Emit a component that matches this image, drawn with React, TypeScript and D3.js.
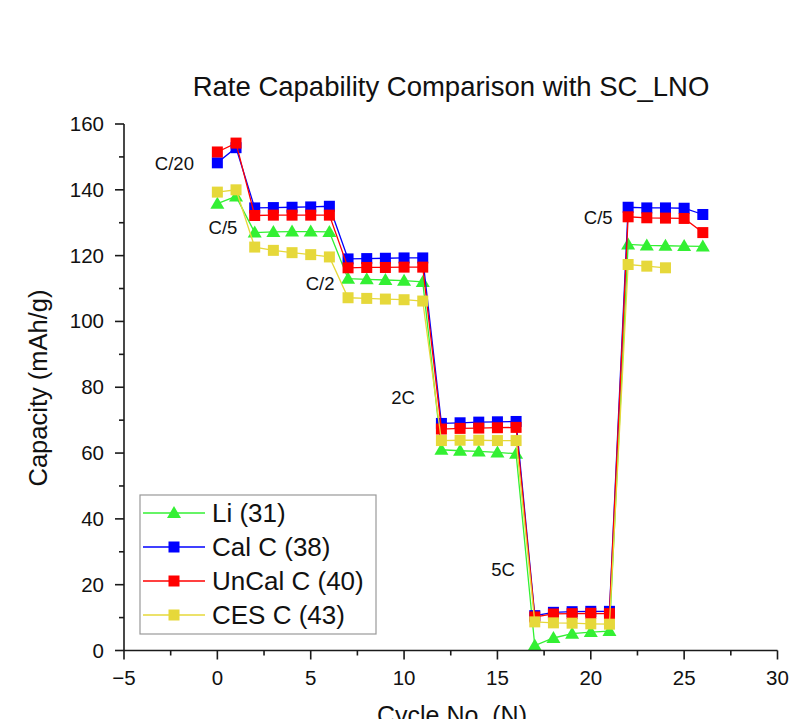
import { useEffect, useRef } from 'react';
import * as d3 from 'd3';

// cycle numbers and capacities (mAh/g)
const cycles = [0, 1, 2, 3, 4, 5, 6, 7, 8, 9, 10, 11, 12, 13, 14, 15, 16, 17, 18, 19, 20, 21, 22, 23, 24, 25, 26];
const li31 = [135.8, 138.0, 127.0, 127.2, 127.3, 127.3, 127.2, 113.0, 112.8, 112.6, 112.4, 112.0, 61.0, 60.7, 60.5, 60.2, 59.8, 1.5, 3.8, 5.1, 5.6, 5.9, 123.4, 123.1, 123.0, 122.9, 122.8];
const calC38 = [148.2, 152.8, 134.5, 134.6, 134.7, 134.8, 135.0, 119.0, 119.1, 119.2, 119.3, 119.3, 69.0, 69.2, 69.4, 69.5, 69.6, 10.6, 11.6, 11.8, 11.9, 11.9, 134.7, 134.5, 134.5, 134.4, 132.5];
const unCalC40 = [151.5, 154.2, 132.2, 132.3, 132.3, 132.3, 132.3, 116.3, 116.4, 116.4, 116.5, 116.5, 67.3, 67.5, 67.6, 67.7, 67.8, 10.2, 11.1, 11.2, 11.3, 11.2, 131.8, 131.5, 131.4, 131.3, 127.0];
const cesC43 = [139.3, 140.0, 122.6, 121.6, 120.9, 120.3, 119.6, 107.2, 107.0, 106.8, 106.6, 106.2, 63.8, 63.9, 63.9, 63.8, 63.8, 8.7, 8.4, 8.3, 8.1, 8.0, 117.3, 116.8, 116.3];

const seriesNames = ['Li (31)', 'Cal C (38)', 'UnCal C (40)', 'CES C (43)'];
const seriesValues = [li31, calC38, unCalC40, cesC43];
const seriesColors = ['#33f033', '#0000ff', '#ff0000', '#e6d83a'];
const seriesShapes = ['triangle', 'square', 'square', 'square'];

// rate labels: [label, cycle, capacity]
const rateLabels: [string, number, number][] = [
  ['C/20', -2.3, 148],
  ['C/5', 0.3, 128.5],
  ['C/2', 5.5, 111.5],
  ['2C', 9.95, 77],
  ['5C', 15.3, 24.5],
  ['C/5', 20.4, 131.5],
];

const xTicks = [-5, 0, 5, 10, 15, 20, 25, 30];
const yTicks = [0, 20, 40, 60, 80, 100, 120, 140, 160];

const font = 'Arial, "Liberation Sans", sans-serif';

function Marker({ shape, x, y, color }: { shape: string; x: number; y: number; color: string }) {
  if (shape === 'triangle') {
    return <path d={`M${x},${y - 7}L${x + 7},${y + 5}L${x - 7},${y + 5}Z`} fill={color} />;
  }
  return <rect x={x - 5.5} y={y - 5.5} width={11} height={11} fill={color} />;
}

export default function App() {
  const width = 795;
  const height = 719;
  const x = d3.scaleLinear().domain([-5, 30]).range([124, 777.5]);
  const y = d3.scaleLinear().domain([0, 160]).range([650.5, 124]);

  const line = d3
    .line<number>()
    .x((_, i) => x(cycles[i]))
    .y((d) => y(d));

  const xMinor = d3.range(-5, 30.01, 2.5).filter((v) => !xTicks.includes(v));
  const yMinor = d3.range(0, 160.01, 10).filter((v) => !yTicks.includes(v));

  const ref = useRef<SVGSVGElement>(null);
  useEffect(() => {
    document.body.style.margin = '0';
  }, []);

  return (
    <svg ref={ref} width={width} height={height} style={{ display: 'block', background: '#fff' }} fontFamily={font}>
      <text x={451} y={96} textAnchor='middle' fontSize={27.5} fill='#111'>
        Rate Capability Comparison with SC_LNO
      </text>

      {/* series */}
      {seriesValues.map((vals, s) => (
        <g key={seriesNames[s]}>
          <path d={line(vals) || ''} fill='none' stroke={seriesColors[s]} strokeWidth={1.3} />
          {vals.map((v, i) => (
            <Marker key={i} shape={seriesShapes[s]} x={x(cycles[i])} y={y(v)} color={seriesColors[s]} />
          ))}
        </g>
      ))}

      {/* axes */}
      <g stroke='#1a1a1a' strokeWidth={1.6}>
        <line x1={x(-5)} x2={x(30)} y1={y(0)} y2={y(0)} />
        <line x1={x(-5)} x2={x(-5)} y1={y(0)} y2={y(160)} />
        {xTicks.map((t) => (
          <line key={'xt' + t} x1={x(t)} x2={x(t)} y1={y(0)} y2={y(0) + 9} />
        ))}
        {xMinor.map((t) => (
          <line key={'xm' + t} x1={x(t)} x2={x(t)} y1={y(0)} y2={y(0) + 5} />
        ))}
        {yTicks.map((t) => (
          <line key={'yt' + t} x1={x(-5) - 9} x2={x(-5)} y1={y(t)} y2={y(t)} />
        ))}
        {yMinor.map((t) => (
          <line key={'ym' + t} x1={x(-5) - 5} x2={x(-5)} y1={y(t)} y2={y(t)} />
        ))}
      </g>
      {xTicks.map((t) => (
        <text key={'xl' + t} x={x(t)} y={y(0) + 34} textAnchor='middle' fontSize={20.5} fill='#111'>
          {t < 0 ? '\u2212' + Math.abs(t) : t}
        </text>
      ))}
      {yTicks.map((t) => (
        <text key={'yl' + t} x={x(-5) - 20} y={y(t) + 7} textAnchor='end' fontSize={20.5} fill='#111'>
          {t}
        </text>
      ))}

      <text x={452} y={724} textAnchor='middle' fontSize={25} fill='#111'>
        Cycle No. (N)
      </text>
      <text transform={`translate(47,388) rotate(-90)`} textAnchor='middle' fontSize={25.5} fill='#111'>
        Capacity (mAh/g)
      </text>

      {rateLabels.map(([label, cx, cy], i) => (
        <text key={'r' + i} x={x(cx)} y={y(cy)} dy='0.35em' textAnchor='middle' fontSize={18.5} fill='#111'>
          {label}
        </text>
      ))}

      {/* legend */}
      <rect x={140} y={495} width={236} height={139} fill='#fff' stroke='#999' strokeWidth={1.2} />
      {seriesNames.map((name, s) => {
        const ly = 513 + s * 34;
        return (
          <g key={'lg' + s}>
            <line x1={143} x2={205} y1={ly} y2={ly} stroke={seriesColors[s]} strokeWidth={1.3} />
            <Marker shape={seriesShapes[s]} x={174} y={ly} color={seriesColors[s]} />
            <text x={212} y={ly} dy='0.35em' fontSize={26} fill='#111'>
              {name}
            </text>
          </g>
        );
      })}
    </svg>
  );
}
